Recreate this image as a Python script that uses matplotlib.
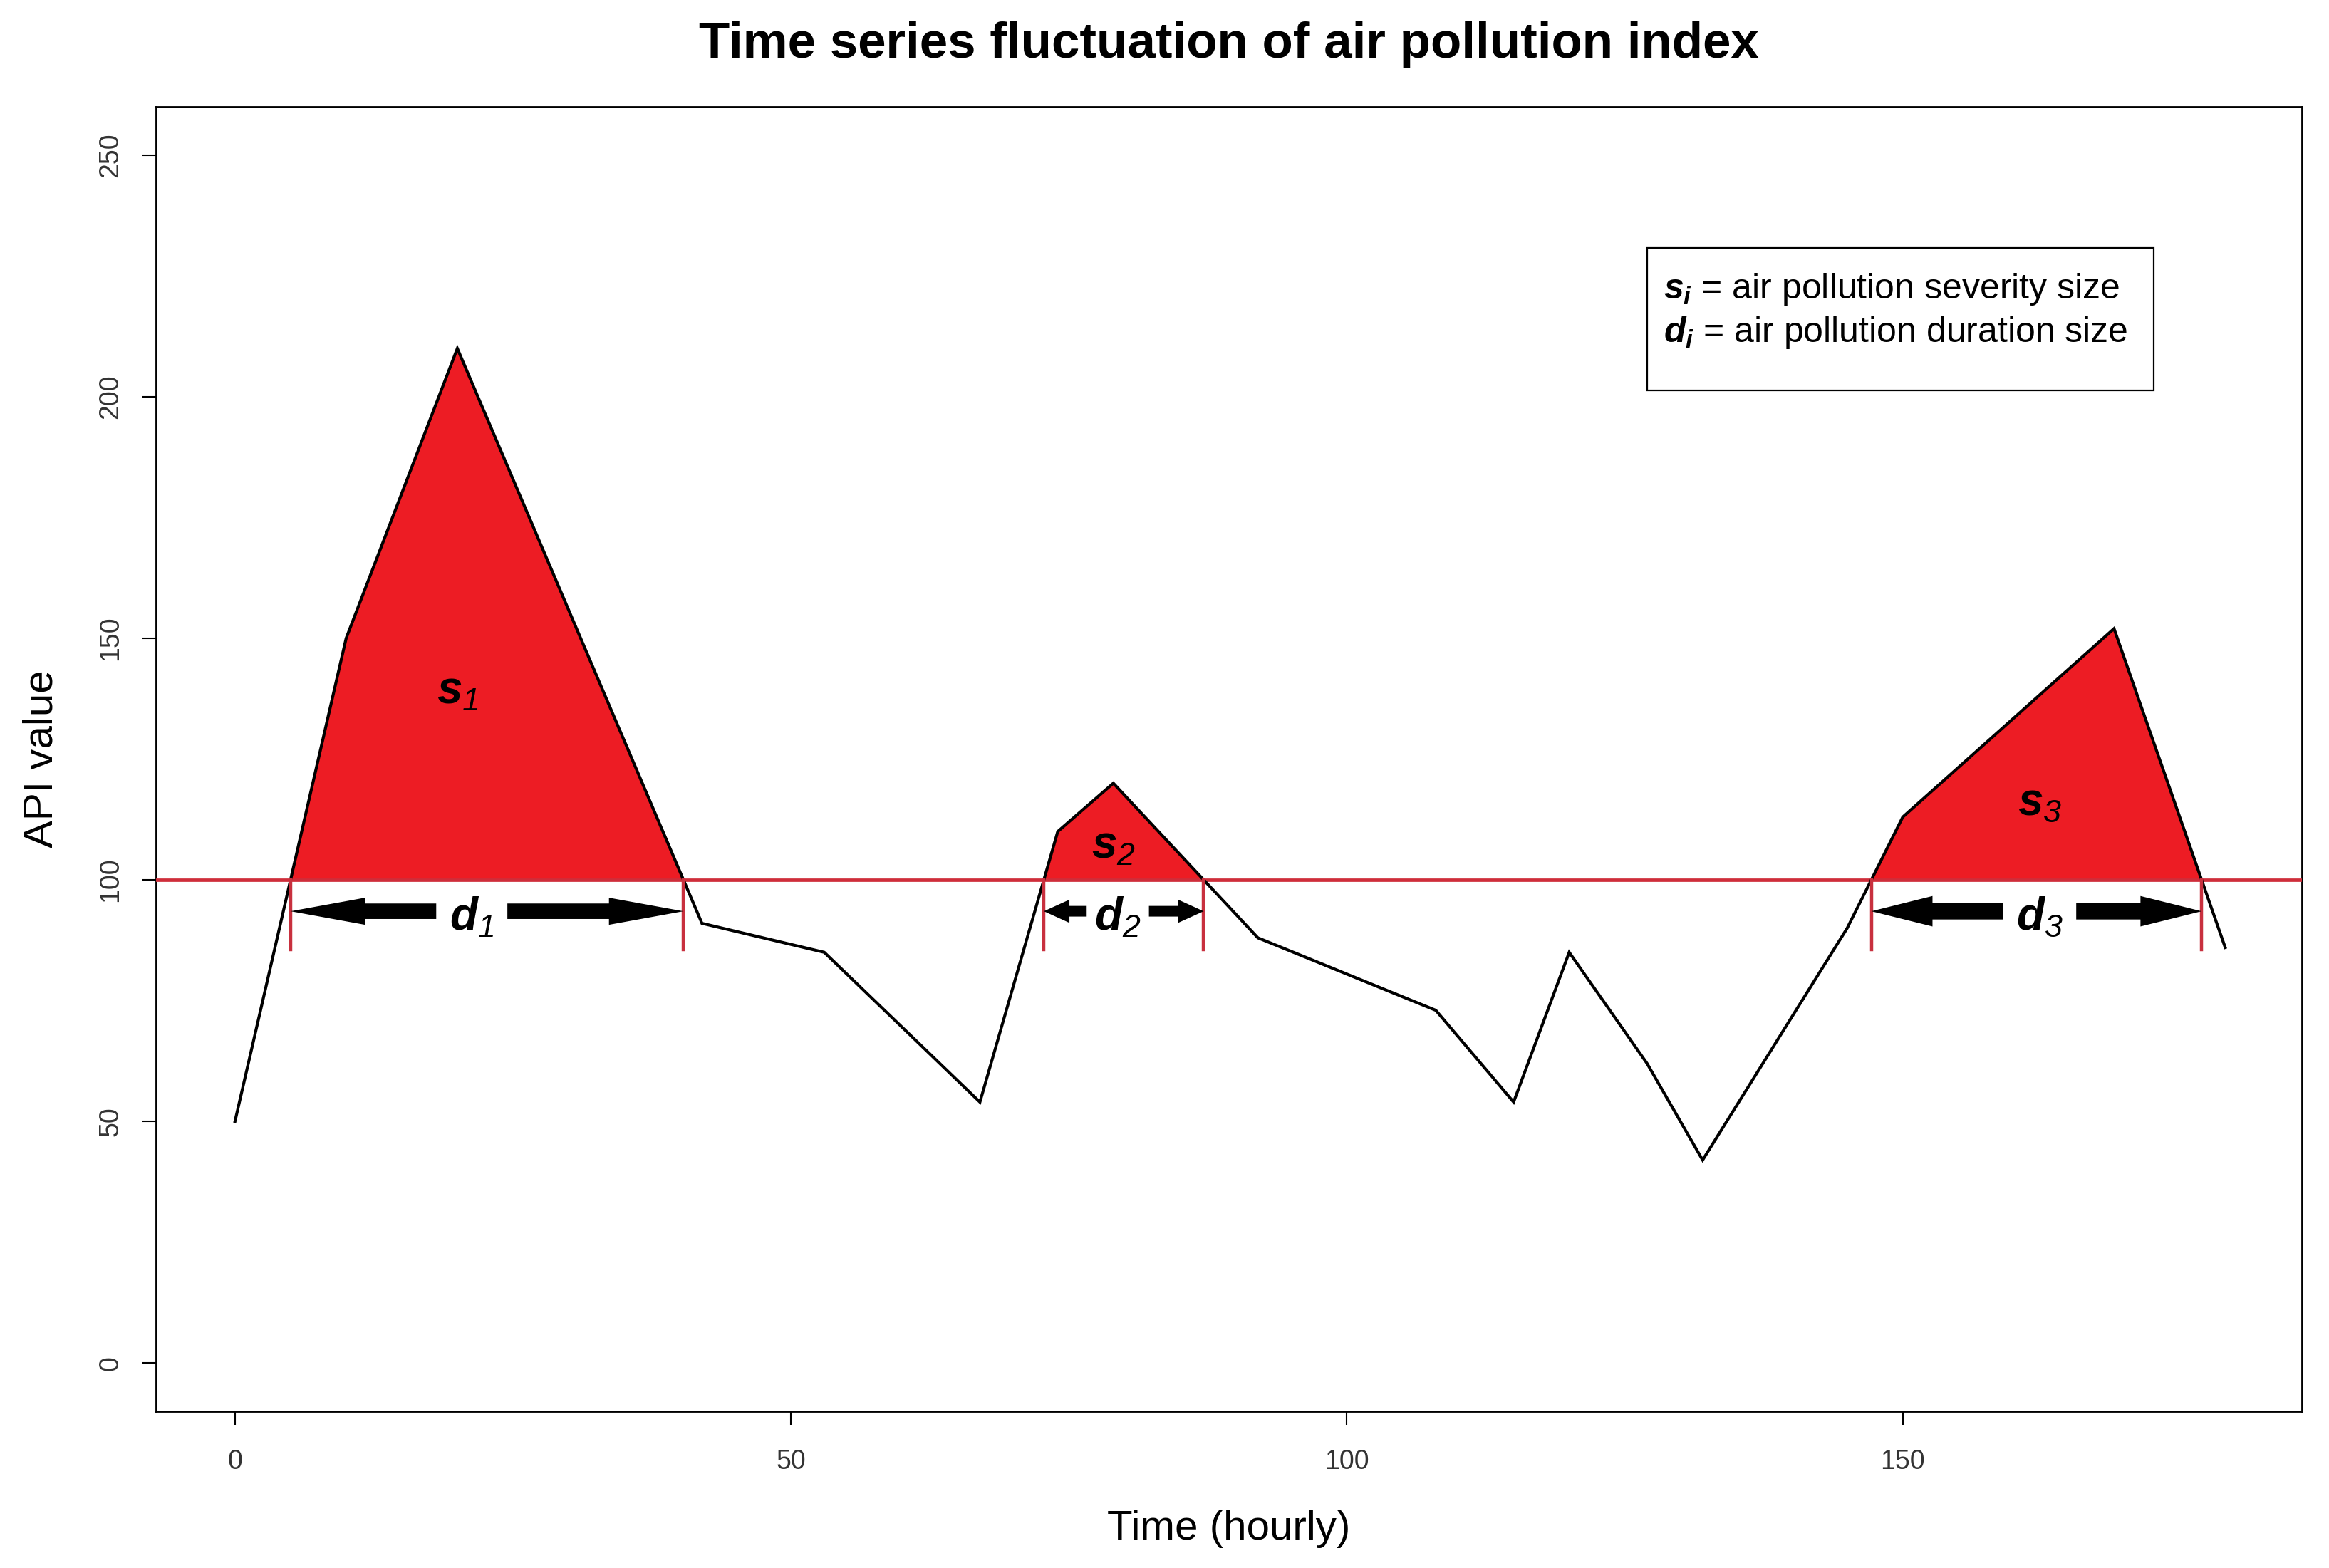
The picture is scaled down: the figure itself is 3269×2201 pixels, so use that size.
import numpy as np
import matplotlib
matplotlib.use("Agg")
import matplotlib.pyplot as plt
from matplotlib.patches import Rectangle, FancyArrow

# ---------------- data ----------------
time_h = [0, 10, 20, 42, 53, 67, 74, 79, 92, 108, 115, 120, 127, 132, 145, 150, 169, 179]
api = [50, 150, 210, 91, 85, 54, 110, 120, 88, 73, 54, 85, 62, 42, 90, 113, 152, 86]
threshold = 100

x_ticks = [0, 50, 100, 150]
y_ticks = [0, 50, 100, 150, 200, 250]

sev_labels = [r"$s_{1}$", r"$s_{2}$", r"$s_{3}$"]
sev_x = [20.0, 79.0, 162.3]
sev_y = [139, 107, 116]

dur_labels = [r"$d_{1}$", r"$d_{2}$", r"$d_{3}$"]
dur_x = [21.3, 79.4, 162.3]
dur_y = 93.5

title = "Time series fluctuation of air pollution index"
xlabel = "Time (hourly)"
ylabel = "API value"
legend_lines = [r"$s_i$ = air pollution severity size",
                r"$d_i$ = air pollution duration size"]

# ---------------- style ----------------
plt.rcParams["font.family"] = ["Liberation Sans", "DejaVu Sans"]
plt.rcParams["mathtext.fontset"] = "custom"
plt.rcParams["mathtext.it"] = "Liberation Sans:italic:bold"
plt.rcParams["mathtext.rm"] = "Liberation Sans:italic"
plt.rcParams["mathtext.bf"] = "Liberation Sans:bold"

W, H = 3269, 2201
fig = plt.figure(figsize=(W / 100, H / 100), dpi=100)
L, R, T, B = 219, 3231, 150, 1981
ax = fig.add_axes([L / W, (H - B) / H, (R - L) / W, (B - T) / H])

x = np.array(time_h, float)
y = np.array(api, float)

ax.fill_between(x, y, threshold, where=y > threshold, interpolate=True,
                color="#ED1C24", linewidth=0, zorder=2)
ax.axhline(threshold, color="#CF2D3A", lw=3.4, zorder=3)
ax.plot(x, y, color="black", lw=3.0, zorder=4, solid_joinstyle="miter")

# crossings of threshold
d = y - threshold
ups, downs = [], []
for i in range(len(x) - 1):
    if d[i] <= 0 < d[i + 1]:
        ups.append(x[i] + (x[i + 1] - x[i]) * (-d[i]) / (d[i + 1] - d[i]))
    if d[i] > 0 >= d[i + 1]:
        downs.append(x[i] + (x[i + 1] - x[i]) * d[i] / (d[i] - d[i + 1]))

tick_bottom = 85.5
for xc in ups + downs:
    ax.plot([xc, xc], [threshold, tick_bottom], color="#C8303E", lw=3.2, zorder=5)

shaft_w = [3.2, 2.2, 3.4]
head_w = [5.6, 4.8, 6.3]
head_l = [6.7, 2.3, 5.5]
gap_l = [3.2, 2.8, 3.3]
gap_r = [3.2, 2.8, 3.3]
for i in range(3):
    xl0 = dur_x[i] - gap_l[i]
    ax.add_patch(FancyArrow(xl0, dur_y, ups[i] - xl0, 0, width=shaft_w[i],
                            head_width=head_w[i], head_length=head_l[i],
                            length_includes_head=True, color="black", lw=0, zorder=6))
    xr0 = dur_x[i] + gap_r[i]
    ax.add_patch(FancyArrow(xr0, dur_y, downs[i] - xr0, 0, width=shaft_w[i],
                            head_width=head_w[i], head_length=head_l[i],
                            length_includes_head=True, color="black", lw=0, zorder=6))
    ax.text(dur_x[i], dur_y - 1.3, dur_labels[i], fontsize=46, ha="center", va="center", zorder=7)
    ax.text(sev_x[i], sev_y[i], sev_labels[i], fontsize=46, ha="center", va="center", zorder=7)

ax.set_xlim(-7.1, 185.9)
ax.set_ylim(-10, 260)
ax.set_xticks(x_ticks)
ax.set_yticks(y_ticks)
ax.set_xticklabels([str(t) for t in x_ticks])
ax.set_yticklabels([str(t) for t in y_ticks], rotation=90, va="center")
ax.tick_params(axis="both", length=14, width=1.5, labelsize=27, colors="black",
               labelcolor="#333333")
ax.tick_params(axis="x", pad=24)
ax.tick_params(axis="y", pad=19)
for sp in ax.spines.values():
    sp.set_linewidth(2.0)

ax.set_xlabel(xlabel, fontsize=42)
ax.xaxis.set_label_coords(0.5, (B - 2146) / (B - T))
ax.xaxis.label.set_va("center")
ax.set_ylabel(ylabel, fontsize=42)
ax.yaxis.set_label_coords((58 - L) / (R - L), 0.5)
ax.yaxis.label.set_va("center")

ax.text(0.5, (B - 63) / (B - T), title, transform=ax.transAxes, ha="center",
        va="center", fontsize=51, fontweight="bold")

# legend box
bx0, bx1 = (2312 - L) / (R - L), (3023 - L) / (R - L)
by0, by1 = (B - 548) / (B - T), (B - 348) / (B - T)
ax.add_patch(Rectangle((bx0, by0), bx1 - bx0, by1 - by0, transform=ax.transAxes,
                       fill=True, facecolor="white", edgecolor="black", lw=1.6, zorder=8))
for k, line in enumerate(legend_lines):
    yy = (B - (406 + 61 * k)) / (B - T)
    ax.text((2335 - L) / (R - L), yy, line, transform=ax.transAxes, fontsize=36,
            ha="left", va="center", zorder=9)

fig.savefig("out.png", dpi=100, facecolor="white")
